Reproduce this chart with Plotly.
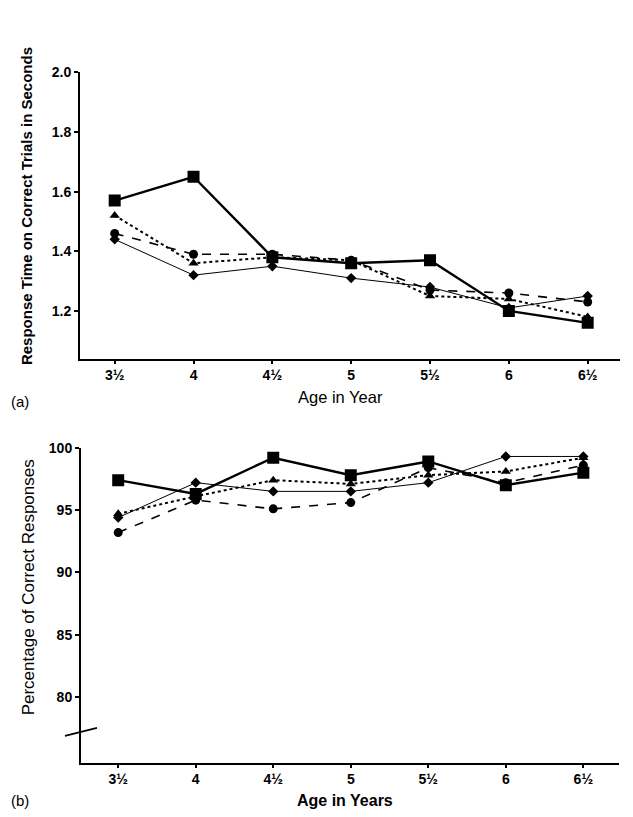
import plotly.graph_objects as go
from plotly.subplots import make_subplots

# age categories (x axis, both panels)
ages = ["3½", "4", "4½", "5", "5½", "6", "6½"]

# (a) response time on correct trials, seconds
rt_square = [1.57, 1.65, 1.38, 1.36, 1.37, 1.20, 1.16]
rt_triangle = [1.52, 1.36, 1.38, 1.37, 1.25, 1.24, 1.18]
rt_circle = [1.46, 1.39, 1.39, 1.37, 1.27, 1.26, 1.23]
rt_diamond = [1.44, 1.32, 1.35, 1.31, 1.28, 1.21, 1.25]

# (b) percentage of correct responses
pc_square = [97.4, 96.3, 99.2, 97.8, 98.9, 97.0, 98.0]
pc_triangle = [94.7, 96.1, 97.4, 97.1, 97.8, 98.1, 99.2]
pc_circle = [93.2, 95.8, 95.1, 95.6, 98.4, 97.2, 98.6]
pc_diamond = [94.4, 97.2, 96.5, 96.5, 97.2, 99.3, 99.3]

rt_ticks = [1.2, 1.4, 1.6, 1.8, 2.0]
rt_ticktext = ["1.2", "1.4", "1.6", "1.8", "2.0"]
pc_ticks = [80, 85, 90, 95, 100]

W, H = 633, 817
OFF = 8  # page body margin
FONT = "Liberation Sans, Arial, sans-serif"
xpos = list(range(len(ages)))


def px(x):
    return (x - OFF) / W


def py(y):
    return 1 - (y - OFF) / H


# line/marker style per series
styles = [
    ("diamond", dict(color="black", width=1), dict(symbol="diamond", size=8)),
    ("circle", dict(color="black", width=1.6, dash="dash"), dict(symbol="circle", size=9)),
    ("triangle", dict(color="black", width=2, dash="dot"), dict(symbol="triangle-up", size=9)),
    ("square", dict(color="black", width=2.4), dict(symbol="square", size=12)),
]
top_data = {"diamond": rt_diamond, "circle": rt_circle, "triangle": rt_triangle, "square": rt_square}
bot_data = {"diamond": pc_diamond, "circle": pc_circle, "triangle": pc_triangle, "square": pc_square}

fig = make_subplots(rows=2, cols=1)

for name, line, marker in styles:
    marker = dict(marker, color="black")
    fig.add_trace(go.Scatter(x=xpos, y=top_data[name], mode="lines+markers", name=name,
                             line=line, marker=marker, showlegend=False), row=1, col=1)
    fig.add_trace(go.Scatter(x=xpos, y=bot_data[name], mode="lines+markers", name=name,
                             line=line, marker=marker, showlegend=False), row=2, col=1)

axis_common = dict(showline=True, linecolor="black", linewidth=2, showgrid=False, zeroline=False,
                   ticks="outside", tickcolor="black", tickwidth=2, mirror=False,
                   tickfont=dict(family=FONT, size=14, color="black", weight="bold"))

fig.update_xaxes(axis_common, ticklen=3, tickvals=xpos, ticktext=ages)
fig.update_yaxes(axis_common, ticklen=4)

fig.update_xaxes(domain=[px(80), px(620)], range=[-0.44, 6.41], row=1, col=1)
fig.update_yaxes(domain=[py(354), py(65)], range=[1.04, 2.0],
                 tickvals=rt_ticks, ticktext=rt_ticktext, row=1, col=1)
fig.update_xaxes(domain=[px(81), px(619)], range=[-0.48, 6.46], row=2, col=1)
fig.update_yaxes(domain=[py(762), py(444)], range=[74.76, 100],
                 tickvals=pc_ticks, row=2, col=1)

annots = [
    dict(text="Age in Year", x=px(340), y=py(393), font=dict(size=16.5)),
    dict(text="<b>Age in Years</b>", x=px(345), y=py(800), font=dict(size=16)),
    dict(text="<b>Response Time on Correct Trials in Seconds</b>", x=px(26), y=py(200),
         textangle=-90, font=dict(size=15)),
    dict(text="Percentage of Correct Responses", x=px(28), y=py(585),
         textangle=-90, font=dict(size=17)),
    dict(text="(a)", x=px(20), y=py(397), font=dict(size=15)),
    dict(text="(b)", x=px(20), y=py(800), font=dict(size=15)),
]
for a in annots:
    f = dict(family=FONT, color="black")
    f.update(a.pop("font"))
    fig.add_annotation(a, xref="paper", yref="paper", showarrow=False,
                       xanchor="center", yanchor="middle", font=f)

# axis break mark on the lower y axis
fig.add_shape(type="line", xref="paper", yref="paper",
              x0=px(65), y0=py(735), x1=px(97), y1=py(727),
              line=dict(color="black", width=1.8))

fig.update_layout(width=W, height=H, margin=dict(l=0, r=0, t=0, b=0),
                  paper_bgcolor="white", plot_bgcolor="white",
                  font=dict(family=FONT, color="black"))

fig.write_html("out.html")
